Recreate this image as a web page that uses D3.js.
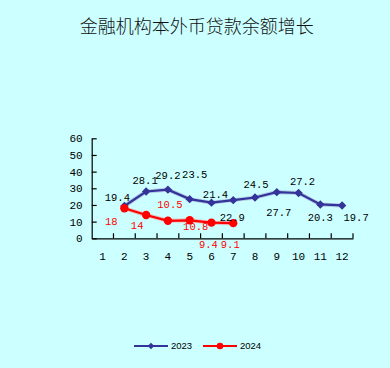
<!DOCTYPE html>
<html><head><meta charset="utf-8">
<script src="https://cdn.jsdelivr.net/npm/d3@7/dist/d3.min.js"></script>
<style>
html,body{margin:0;padding:0;background:#ccffff;}
svg{display:block;}
</style></head>
<body>
<svg id="chart" width="390" height="368"></svg>
<script>
const title = "金融机构本外币贷款余额增长";
const months = [1,2,3,4,5,6,7,8,9,10,11,12];
const yTicks = [0,10,20,30,40,50,60];
const months2023 = [2,3,4,5,6,7,8,9,10,11,12];
const values2023 = [19.4,28.1,29.2,23.5,21.4,22.9,24.5,27.7,27.2,20.3,19.7];
const months2024 = [2,3,4,5,6,7];
const values2024 = [18,14,10.5,10.8,9.4,9.1];
const seriesNames = ["2023","2024"];

// label offsets (layout, relative to the point)
const labelOff2023 = [[-7,-9],[-1,-11],[0,-14],[5,-25],[4,-8],[-1,17],[1,-13],[2,20],[4,-12],[0,13],[14,12]];
const labelOff2024 = [[-13,13],[-9,10],[2,-16],[6,6],[-3,21.5],[-3,21.5]];

const svg = d3.select("#chart");
const x = d3.scaleBand().domain(months).range([91.7,353]).padding(0);
const y = d3.scaleLinear().domain([0,60]).range([238.3,138.3]);
const numFont = "'Liberation Mono', 'DejaVu Sans Mono', monospace";

svg.append("text").attr("x",196.7).attr("y",33)
  .attr("text-anchor","middle")
  .attr("font-family","'Noto Sans CJK SC', sans-serif")
  .attr("font-weight",300)
  .attr("font-size",18).attr("fill","#111")
  .text(title);

// Y axis
const ya = svg.append("g").attr("transform","translate(91.7,0)")
  .call(d3.axisLeft(y).tickValues(yTicks).tickSizeInner(-5).tickSizeOuter(0).tickPadding(9));
ya.select(".domain").attr("stroke","#000").attr("stroke-width",1.2);
ya.selectAll(".tick line").attr("stroke","#000").attr("stroke-width",1.2);
ya.selectAll(".tick text").attr("font-family",numFont).attr("font-size",11).attr("fill","#000");

// X axis
const xa = svg.append("g").attr("transform","translate(0,238.3)")
  .call(d3.axisBottom(x).tickSize(0).tickPadding(14));
xa.select(".domain").attr("stroke","#000").attr("stroke-width",1.2);
xa.selectAll(".tick text").attr("font-family",numFont).attr("font-size",11).attr("fill","#000");
const bounds = d3.range(months.length+1).map(i => x.range()[0] + i*x.step());
svg.append("g").selectAll("line").data(bounds.slice(1)).join("line")
  .attr("x1",d=>d).attr("x2",d=>d).attr("y1",238.3).attr("y2",233.3)
  .attr("stroke","#000").attr("stroke-width",1.2);

const cx = m => x(m) + x.bandwidth()/2;
const line = d3.line().x(d=>cx(d[0])).y(d=>y(d[1]));

const d2023 = months2023.map((m,i)=>[m,values2023[i]]);
const d2024 = months2024.map((m,i)=>[m,values2024[i]]);

const blue = "#333399", red = "#ff0000";
svg.append("path").datum(d2023).attr("d",line).attr("fill","none")
  .attr("stroke","#9999cc").attr("stroke-width",4).attr("opacity",0.5);
svg.append("path").datum(d2023).attr("d",line).attr("fill","none")
  .attr("stroke",blue).attr("stroke-width",2.2);
svg.append("g").selectAll("path").data(d2023).join("path")
  .attr("transform",d=>`translate(${cx(d[0])},${y(d[1])})`)
  .attr("d","M0,-4.2L4.2,0L0,4.2L-4.2,0Z").attr("fill",blue);

svg.append("path").datum(d2024).attr("d",line).attr("fill","none")
  .attr("stroke","#ff8080").attr("stroke-width",4).attr("opacity",0.5);
svg.append("path").datum(d2024).attr("d",line).attr("fill","none")
  .attr("stroke",red).attr("stroke-width",2.2);
svg.append("g").selectAll("circle").data(d2024).join("circle")
  .attr("cx",d=>cx(d[0])).attr("cy",d=>y(d[1])).attr("r",4.2).attr("fill",red);

// data labels
svg.append("g").selectAll("text").data(d2023).join("text")
  .attr("x",(d,i)=>cx(d[0])+labelOff2023[i][0])
  .attr("y",(d,i)=>y(d[1])+labelOff2023[i][1])
  .attr("dy","0.35em").attr("text-anchor","middle")
  .attr("font-family",numFont).attr("font-size",10.5).attr("fill","#000")
  .text(d=>d[1]);
svg.append("g").selectAll("text").data(d2024).join("text")
  .attr("x",(d,i)=>cx(d[0])+labelOff2024[i][0])
  .attr("y",(d,i)=>y(d[1])+labelOff2024[i][1])
  .attr("dy","0.35em").attr("text-anchor","middle")
  .attr("font-family",numFont).attr("font-size",10.5).attr("fill",red)
  .text(d=>d[1]);

// legend
const lg = svg.append("g").attr("font-family","'Liberation Sans', Arial, sans-serif").attr("font-size",9.5);
const legendItems = [{name:seriesNames[0],color:blue,x:134,shape:"diamond"},{name:seriesNames[1],color:red,x:203,shape:"circle"}];
legendItems.forEach(it=>{
  const g = lg.append("g").attr("transform",`translate(${it.x},346)`);
  g.append("line").attr("x1",0).attr("x2",34).attr("stroke",it.color).attr("stroke-width",2);
  if(it.shape==="diamond") g.append("path").attr("d","M17,-3.3L20.3,0L17,3.3L13.7,0Z").attr("fill",it.color);
  else g.append("circle").attr("cx",17).attr("r",3.3).attr("fill",it.color);
  g.append("text").attr("x",37).attr("dy","0.35em").attr("fill","#000").text(it.name);
});
</script>
</body></html>
